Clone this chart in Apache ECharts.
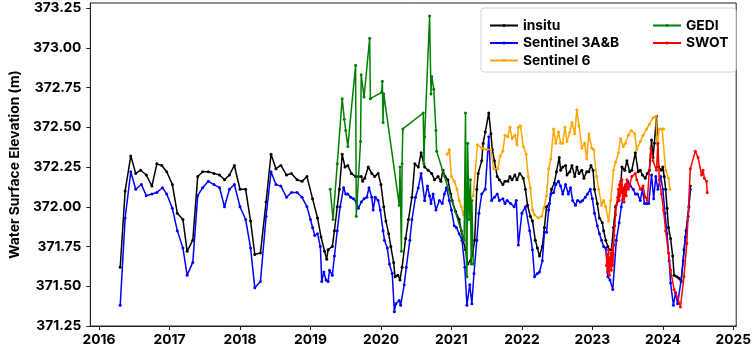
<!DOCTYPE html>
<html><head><meta charset="utf-8">
<script src="https://cdn.jsdelivr.net/npm/echarts@6/dist/echarts.min.js"></script>
<style>html,body{margin:0;padding:0;background:#fff}#c{width:754px;height:349px}</style>
</head><body><div id="c"></div>
<script>
const xTicks = [2016, 2017, 2018, 2019, 2020, 2021, 2022, 2023, 2024, 2025];
const yTicks = [371.25, 371.5, 371.75, 372.0, 372.25, 372.5, 372.75, 373.0, 373.25];
const seriesNames = ['insitu', 'Sentinel 3A&B', 'Sentinel 6', 'GEDI', 'SWOT'];

const insitu = [[2016.30,371.62],[2016.37,372.10],[2016.45,372.32],[2016.52,372.21],[2016.59,372.23],[2016.67,372.20],[2016.75,372.13],[2016.82,372.27],[2016.89,372.26],[2016.96,372.22],[2017.04,372.14],[2017.11,371.96],[2017.19,371.92],[2017.25,371.72],[2017.33,371.79],[2017.40,372.19],[2017.47,372.22],[2017.55,372.22],[2017.63,372.21],[2017.71,372.20],[2017.78,372.17],[2017.85,372.20],[2017.92,372.26],[2018.00,372.11],[2018.08,372.11],[2018.15,371.91],[2018.21,371.70],[2018.29,371.71],[2018.37,372.03],[2018.44,372.33],[2018.51,372.24],[2018.58,372.26],[2018.66,372.20],[2018.73,372.21],[2018.81,372.17],[2018.88,372.16],[2018.95,372.19],[2019.03,372.05],[2019.10,371.93],[2019.15,371.81],[2019.20,371.72],[2019.23,371.67],[2019.25,371.73],[2019.31,371.75],[2019.34,371.85],[2019.38,372.00],[2019.41,372.11],[2019.45,372.33],[2019.49,372.25],[2019.53,372.26],[2019.58,372.21],[2019.64,372.19],[2019.68,372.19],[2019.72,372.19],[2019.74,372.16],[2019.77,372.18],[2019.82,372.25],[2019.87,372.21],[2019.91,372.19],[2019.96,372.21],[2020.00,372.14],[2020.04,372.00],[2020.07,371.91],[2020.11,371.83],[2020.14,371.75],[2020.18,371.65],[2020.20,371.56],[2020.24,371.57],[2020.27,371.54],[2020.30,371.62],[2020.35,371.80],[2020.39,371.92],[2020.44,372.06],[2020.48,372.27],[2020.53,372.25],[2020.57,372.34],[2020.62,372.25],[2020.67,372.23],[2020.72,372.21],[2020.76,372.17],[2020.81,372.19],[2020.85,372.16],[2020.88,372.23],[2020.91,372.19],[2020.95,372.17],[2020.99,372.08],[2021.01,372.04],[2021.06,371.97],[2021.11,371.92],[2021.14,371.85],[2021.16,371.80],[2021.20,371.73],[2021.23,371.64],[2021.27,371.66],[2021.30,371.70],[2021.33,371.79],[2021.36,372.11],[2021.38,372.21],[2021.43,372.29],[2021.45,372.40],[2021.48,372.47],[2021.53,372.59],[2021.56,372.46],[2021.58,372.36],[2021.61,372.29],[2021.65,372.19],[2021.68,372.17],[2021.73,372.14],[2021.76,372.16],[2021.80,372.16],[2021.83,372.19],[2021.86,372.17],[2021.90,372.20],[2021.93,372.17],[2021.97,372.21],[2022.02,372.18],[2022.05,372.11],[2022.08,372.01],[2022.12,371.94],[2022.15,371.91],[2022.19,371.79],[2022.22,371.74],[2022.25,371.69],[2022.29,371.75],[2022.32,371.87],[2022.35,372.00],[2022.39,372.02],[2022.42,372.11],[2022.46,372.15],[2022.49,372.22],[2022.53,372.31],[2022.55,372.23],[2022.58,372.25],[2022.62,372.26],[2022.64,372.20],[2022.68,372.22],[2022.71,372.26],[2022.75,372.19],[2022.78,372.25],[2022.81,372.21],[2022.85,372.23],[2022.88,372.18],[2022.92,372.22],[2022.95,372.22],[2022.98,372.26],[2023.01,372.23],[2023.03,372.11],[2023.07,372.02],[2023.10,371.93],[2023.14,371.90],[2023.16,371.85],[2023.19,371.79],[2023.22,371.75],[2023.24,371.73],[2023.27,371.73],[2023.30,371.87],[2023.33,372.00],[2023.37,372.04],[2023.40,372.12],[2023.42,372.25],[2023.46,372.23],[2023.49,372.29],[2023.53,372.22],[2023.56,372.23],[2023.61,372.34],[2023.65,372.22],[2023.68,372.23],[2023.71,372.20],[2023.75,372.18],[2023.78,372.21],[2023.81,372.23],[2023.84,372.42],[2023.86,372.31],[2023.88,372.40],[2023.91,372.57],[2023.92,372.45],[2023.94,372.25],[2023.98,372.23],[2024.00,372.25],[2024.02,372.19],[2024.04,372.11],[2024.06,371.99],[2024.08,371.87],[2024.11,371.80],[2024.14,371.69],[2024.16,371.57],[2024.20,371.56],[2024.23,371.55],[2024.26,371.53],[2024.30,371.73],[2024.33,371.85],[2024.37,372.00],[2024.39,372.13]];

const sentinel3 = [[2016.30,371.38],[2016.37,371.93],[2016.45,372.22],[2016.52,372.11],[2016.60,372.14],[2016.67,372.07],[2016.75,372.08],[2016.82,372.09],[2016.90,372.12],[2016.96,372.08],[2017.04,371.99],[2017.11,371.85],[2017.19,371.74],[2017.25,371.57],[2017.33,371.65],[2017.40,372.07],[2017.47,372.12],[2017.55,372.16],[2017.63,372.14],[2017.71,372.12],[2017.78,372.00],[2017.85,372.11],[2017.92,372.14],[2018.00,372.00],[2018.08,371.92],[2018.15,371.74],[2018.21,371.49],[2018.29,371.53],[2018.37,371.94],[2018.44,372.22],[2018.51,372.14],[2018.58,372.13],[2018.66,372.06],[2018.73,372.09],[2018.81,372.09],[2018.88,372.06],[2018.95,372.00],[2019.00,371.92],[2019.03,371.87],[2019.06,371.82],[2019.10,371.83],[2019.14,371.75],[2019.16,371.53],[2019.19,371.59],[2019.22,371.54],[2019.25,371.53],[2019.27,371.60],[2019.31,371.57],[2019.34,371.69],[2019.38,371.85],[2019.42,372.00],[2019.47,372.12],[2019.50,372.08],[2019.53,372.08],[2019.57,372.06],[2019.61,372.05],[2019.65,372.03],[2019.68,371.99],[2019.72,372.03],[2019.76,372.05],[2019.80,372.06],[2019.83,372.12],[2019.87,372.06],[2019.89,371.98],[2019.92,372.06],[2019.96,372.04],[2019.99,371.98],[2020.03,371.85],[2020.05,371.79],[2020.09,371.74],[2020.12,371.64],[2020.16,371.58],[2020.19,371.34],[2020.21,371.39],[2020.26,371.41],[2020.28,371.38],[2020.33,371.51],[2020.36,371.62],[2020.41,371.79],[2020.44,371.92],[2020.49,372.06],[2020.53,372.12],[2020.57,372.21],[2020.62,372.04],[2020.66,372.13],[2020.69,372.07],[2020.71,372.02],[2020.74,372.08],[2020.78,371.98],[2020.83,372.04],[2020.87,372.02],[2020.90,372.08],[2020.93,372.12],[2020.97,372.04],[2021.00,371.98],[2021.04,371.88],[2021.07,371.87],[2021.11,371.83],[2021.15,371.79],[2021.19,371.62],[2021.22,371.38],[2021.26,371.51],[2021.29,371.39],[2021.32,371.58],[2021.36,371.79],[2021.39,371.96],[2021.43,372.08],[2021.48,372.11],[2021.53,372.44],[2021.57,372.04],[2021.61,372.06],[2021.65,372.08],[2021.68,372.04],[2021.73,372.05],[2021.76,372.02],[2021.79,372.04],[2021.84,372.02],[2021.89,372.00],[2021.92,372.04],[2021.95,371.76],[2022.00,371.96],[2022.05,372.00],[2022.11,371.85],[2022.15,371.73],[2022.18,371.56],[2022.22,371.58],[2022.25,371.59],[2022.29,371.66],[2022.32,371.84],[2022.35,371.84],[2022.38,371.98],[2022.41,372.08],[2022.45,372.09],[2022.48,372.14],[2022.52,372.16],[2022.55,372.13],[2022.58,372.08],[2022.62,372.14],[2022.66,372.08],[2022.69,372.12],[2022.72,372.04],[2022.76,372.01],[2022.79,372.04],[2022.83,372.03],[2022.86,372.04],[2022.90,372.06],[2022.93,372.08],[2022.97,372.11],[2023.00,372.05],[2023.03,371.96],[2023.07,371.88],[2023.10,371.83],[2023.13,371.79],[2023.16,371.75],[2023.19,371.74],[2023.22,371.56],[2023.25,371.54],[2023.29,371.48],[2023.34,371.79],[2023.38,371.90],[2023.41,372.00],[2023.44,372.08],[2023.47,372.13],[2023.50,372.16],[2023.54,372.13],[2023.58,372.11],[2023.61,372.08],[2023.64,372.08],[2023.68,372.04],[2023.71,372.11],[2023.74,372.02],[2023.77,372.02],[2023.80,372.02],[2023.84,372.20],[2023.87,372.05],[2023.90,372.19],[2023.93,372.11],[2023.97,372.19],[2024.00,372.11],[2024.03,371.96],[2024.06,371.83],[2024.09,371.66],[2024.11,371.52],[2024.15,371.38],[2024.18,371.46],[2024.21,371.39],[2024.26,371.54],[2024.29,371.66],[2024.32,371.81],[2024.36,371.94],[2024.39,372.11]];

const sentinel6 = [[2020.94,372.33],[2020.97,372.36],[2021.00,372.19],[2021.04,372.16],[2021.08,372.11],[2021.11,372.04],[2021.14,372.00],[2021.17,371.95],[2021.22,372.03],[2021.27,372.05],[2021.31,372.07],[2021.37,372.39],[2021.43,372.37],[2021.50,372.36],[2021.56,372.36],[2021.60,372.24],[2021.66,372.24],[2021.69,372.32],[2021.73,372.35],[2021.76,372.45],[2021.80,372.44],[2021.83,372.50],[2021.86,372.43],[2021.90,372.45],[2021.93,372.39],[2021.95,372.50],[2021.98,372.51],[2022.02,372.38],[2022.06,372.33],[2022.09,372.19],[2022.12,372.12],[2022.15,371.98],[2022.18,371.95],[2022.23,371.93],[2022.28,371.94],[2022.31,371.99],[2022.35,372.07],[2022.38,372.24],[2022.41,372.30],[2022.45,372.49],[2022.48,372.40],[2022.52,372.47],[2022.55,372.40],[2022.58,372.40],[2022.61,372.50],[2022.64,372.41],[2022.68,372.47],[2022.71,372.53],[2022.75,372.46],[2022.78,372.61],[2022.81,372.51],[2022.85,372.37],[2022.89,372.40],[2022.92,372.30],[2022.95,372.46],[2022.99,372.37],[2023.02,372.36],[2023.06,372.19],[2023.09,372.11],[2023.13,372.01],[2023.16,372.04],[2023.19,372.00],[2023.23,371.91],[2023.26,372.04],[2023.30,372.23],[2023.33,372.28],[2023.37,372.34],[2023.40,372.43],[2023.44,372.38],[2023.47,372.40],[2023.51,372.45],[2023.55,372.48],[2023.60,372.46],[2023.63,372.36],[2023.68,372.41],[2023.72,372.45],[2023.77,372.49],[2023.81,372.52],[2023.86,372.56],[2023.90,372.57],[2023.92,372.39],[2023.95,372.49],[2023.99,372.49],[2024.01,372.49],[2024.04,372.23],[2024.08,372.18],[2024.10,372.11]];

const gedi = [[2019.28,372.11],[2019.32,371.92],[2019.38,372.27],[2019.45,372.68],[2019.48,372.55],[2019.50,372.48],[2019.53,372.38],[2019.64,372.89],[2019.65,371.94],[2019.71,372.41],[2019.72,372.83],[2019.76,372.69],[2019.84,373.06],[2019.85,372.68],[2020.01,372.72],[2020.02,372.79],[2020.03,372.53],[2020.04,372.71],[2020.26,372.01],[2020.27,372.25],[2020.29,371.72],[2020.30,372.27],[2020.31,372.49],[2020.60,372.59],[2020.61,372.27],[2020.62,372.44],[2020.69,373.20],[2020.71,372.71],[2020.72,372.82],[2020.75,372.74],[2020.78,372.48],[2020.79,372.35],[2021.18,371.79],[2021.20,372.59],[2021.21,371.71],[2021.22,371.56],[2021.23,372.40],[2021.25,371.92],[2021.27,372.17],[2021.28,371.64],[2021.29,372.04],[2021.31,371.64]];

const swot = [[2023.200,371.63],[2023.207,371.70],[2023.214,371.59],[2023.221,371.66],[2023.228,371.73],[2023.234,371.61],[2023.241,371.57],[2023.248,371.68],[2023.255,371.63],[2023.262,371.71],[2023.269,371.60],[2023.276,371.65],[2023.283,371.74],[2023.290,371.63],[2023.297,371.70],[2023.303,371.76],[2023.310,371.82],[2023.317,371.88],[2023.33,371.95],[2023.34,372.01],[2023.36,372.06],[2023.37,372.11],[2023.38,372.04],[2023.385,372.14],[2023.39,372.07],[2023.40,372.16],[2023.41,372.09],[2023.42,372.17],[2023.43,372.05],[2023.44,372.12],[2023.45,372.03],[2023.47,372.14],[2023.48,372.07],[2023.49,372.17],[2023.51,372.11],[2023.53,372.14],[2023.56,372.19],[2023.61,372.21],[2023.63,372.17],[2023.68,372.11],[2023.72,372.13],[2023.75,372.06],[2023.78,372.04],[2023.83,372.37],[2023.86,372.29],[2023.91,372.23],[2023.93,372.40],[2023.95,372.17],[2023.98,372.08],[2024.01,371.98],[2024.04,371.85],[2024.08,371.71],[2024.11,371.60],[2024.16,371.48],[2024.21,371.43],[2024.25,371.37],[2024.30,371.56],[2024.34,371.77],[2024.39,372.24],[2024.46,372.35],[2024.50,372.31],[2024.55,372.20],[2024.57,372.23],[2024.59,372.18],[2024.62,372.16],[2024.63,372.09]];

const colors = ['#000000', '#0000ff', '#ffa500', '#008000', '#ff0000'];
const datasets = [insitu, sentinel3, sentinel6, gedi, swot];

const FONT = 'Inter';
const chart = echarts.init(document.getElementById('c'), null, {renderer: 'canvas'});
const textBase = {fontFamily: FONT, fontWeight: 'bold', fontSize: 13.8, color: '#000'};

chart.setOption({
  animation: false,
  backgroundColor: '#fff',
  grid: {left: 77, right: 12, top: 3, bottom: 23, show: true, borderColor: '#222', borderWidth: 1},
  xAxis: {
    type: 'value', min: 2015.876, max: 2025.041,
    axisLine: {show: true, lineStyle: {color: '#222', width: 1}},
    axisTick: {show: true, inside: false, length: 4, customValues: xTicks, lineStyle: {color: '#222'}},
    axisLabel: Object.assign({margin: 7, customValues: xTicks, formatter: v => String(Math.round(v))}, textBase),
    splitLine: {show: false}
  },
  yAxis: {
    type: 'value', min: 371.25, max: 373.282,
    name: 'Water Surface Elevation (m)', nameLocation: 'middle', nameRotate: 90, nameGap: 66,
    nameTextStyle: textBase,
    axisLine: {show: true, lineStyle: {color: '#222', width: 1}},
    axisTick: {show: true, inside: false, length: 4, customValues: yTicks, lineStyle: {color: '#222'}},
    axisLabel: Object.assign({margin: 9, customValues: yTicks, formatter: v => v.toFixed(2)}, textBase),
    splitLine: {show: false}
  },
  graphic: [{
    type: 'rect', z: 3, shape: {x: 481, y: 8, width: 255, height: 64, r: 3},
    style: {fill: 'rgba(255,255,255,0.85)', stroke: '#d4d4d4', lineWidth: 1}
  }],
  legend: [
    {left: 484, top: 13, orient: 'vertical', itemWidth: 28, itemHeight: 4, itemGap: 2.5,
     data: seriesNames.slice(0, 3), textStyle: Object.assign({lineHeight: 15}, textBase), z: 5},
    {left: 647, top: 13, orient: 'vertical', itemWidth: 28, itemHeight: 4, itemGap: 2.5,
     data: seriesNames.slice(3), textStyle: Object.assign({lineHeight: 15}, textBase), z: 5}
  ],
  series: seriesNames.map((n, i) => ({
    name: n, type: 'line', data: datasets[i], color: colors[i],
    symbol: 'circle', symbolSize: 3, showSymbol: true,
    lineStyle: {width: 1.5, color: colors[i]}, itemStyle: {color: colors[i]},
    z: 2 + i * 0.01
  }))
});
</script></body></html>
